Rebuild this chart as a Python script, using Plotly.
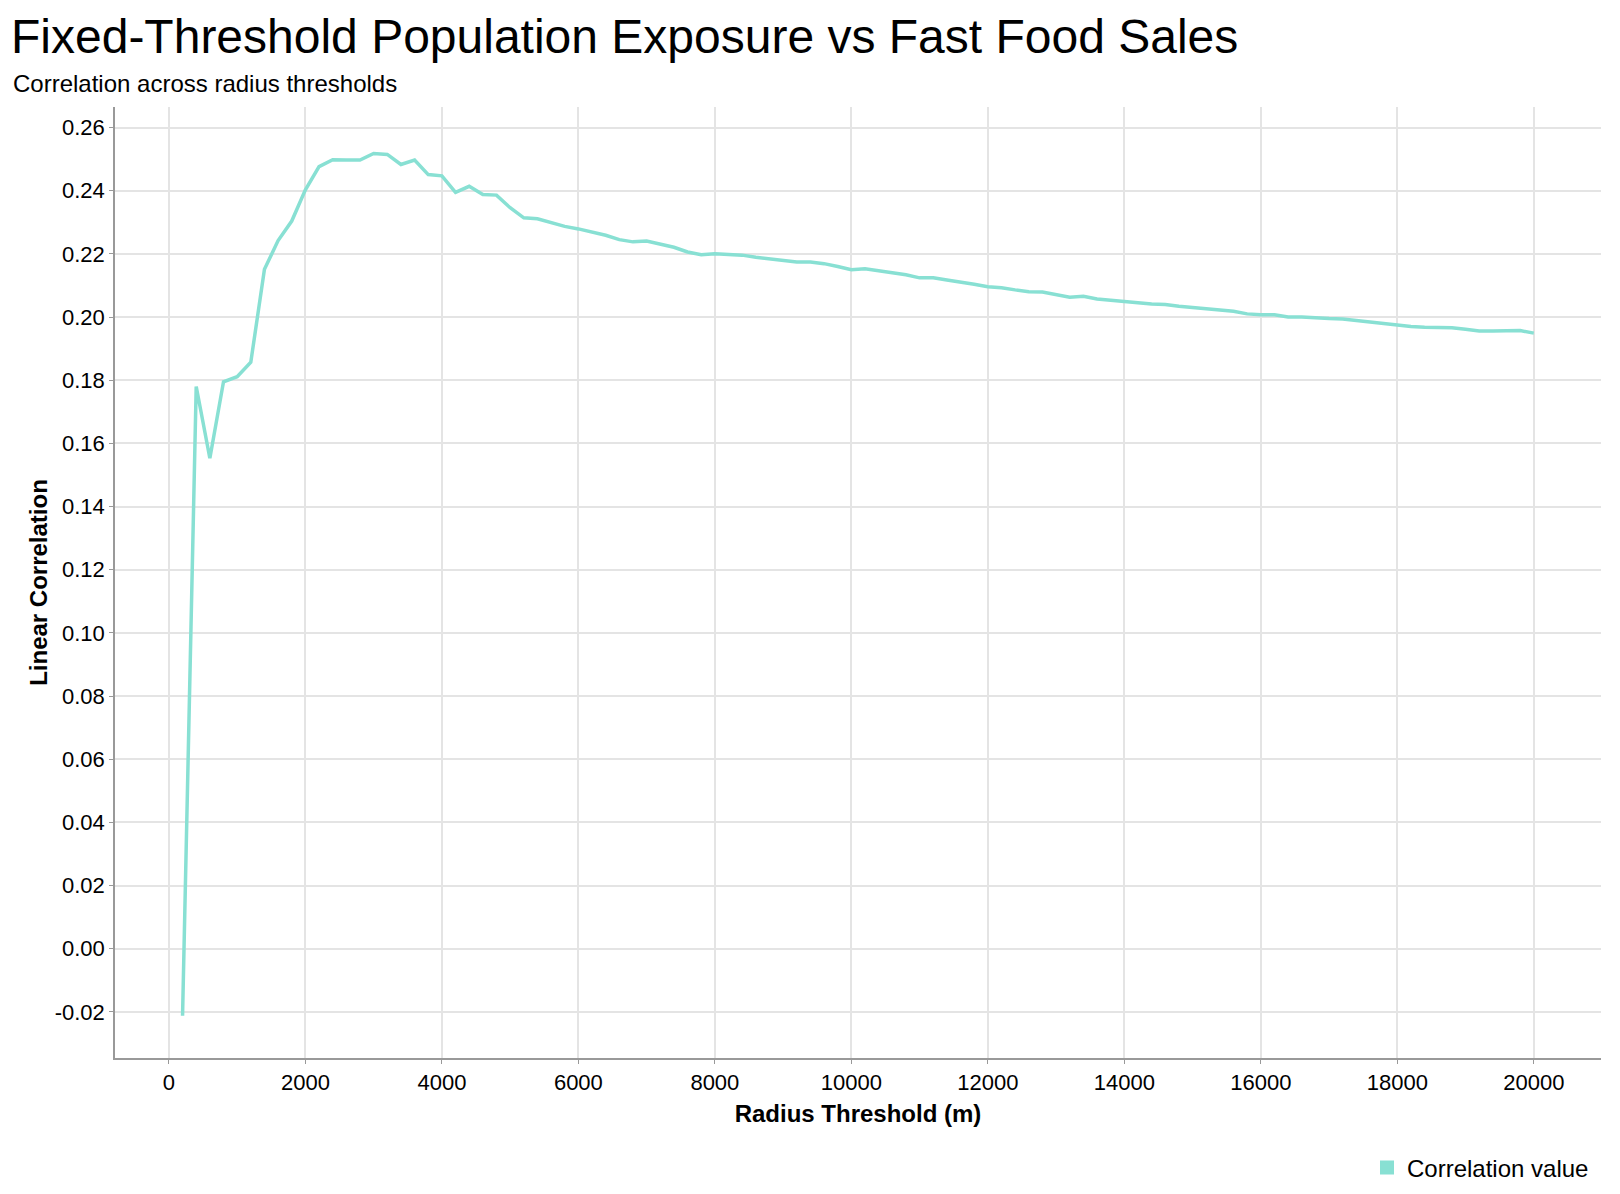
import plotly.graph_objects as go

# radius thresholds (m) and the correlation
radius = [200, 400, 600, 800, 1000, 1200, 1400, 1600, 1800, 2000,
          2200, 2400, 2600, 2800, 3000, 3200, 3400, 3600, 3800, 4000,
          4200, 4400, 4600, 4800, 5000, 5200, 5400, 5600, 5800, 6000,
          6200, 6400, 6600, 6800, 7000, 7200, 7400, 7600, 7800, 8000,
          8200, 8400, 8600, 8800, 9000, 9200, 9400, 9600, 9800, 10000,
          10200, 10400, 10600, 10800, 11000, 11200, 11400, 11600, 11800, 12000,
          12200, 12400, 12600, 12800, 13000, 13200, 13400, 13600, 13800, 14000,
          14200, 14400, 14600, 14800, 15000, 15200, 15400, 15600, 15800, 16000,
          16200, 16400, 16600, 16800, 17000, 17200, 17400, 17600, 17800, 18000,
          18200, 18400, 18600, 18800, 19000, 19200, 19400, 19600, 19800, 20000]
correlation = [-0.0212, 0.1780, 0.1553, 0.1795, 0.1811, 0.1857, 0.2151, 0.2242, 0.2304, 0.2403,
               0.2476, 0.2498, 0.2497, 0.2497, 0.2518, 0.2515, 0.2483, 0.2497, 0.2451, 0.2447,
               0.2395, 0.2414, 0.2388, 0.2386, 0.2346, 0.2314, 0.2311, 0.2300, 0.2287, 0.2279,
               0.2269, 0.2259, 0.2245, 0.2238, 0.2241, 0.2230, 0.2221, 0.2206, 0.2197, 0.2200,
               0.2198, 0.2196, 0.2189, 0.2184, 0.2177, 0.2174, 0.2174, 0.2169, 0.2160, 0.2150,
               0.2153, 0.2147, 0.2140, 0.2134, 0.2124, 0.2124, 0.2117, 0.2111, 0.2104, 0.2096,
               0.2093, 0.2086, 0.2080, 0.2079, 0.2071, 0.2063, 0.2066, 0.2057, 0.2053, 0.2050,
               0.2045, 0.2041, 0.2040, 0.2034, 0.2030, 0.2025, 0.2021, 0.2018, 0.2010, 0.2007,
               0.2007, 0.2000, 0.2000, 0.1997, 0.1995, 0.1994, 0.1989, 0.1985, 0.1980, 0.1973,
               0.1970, 0.1968, 0.1966, 0.1966, 0.1961, 0.1956, 0.1956, 0.1956, 0.1957, 0.1949]

y_ticks = [-0.02, 0.00, 0.02, 0.04, 0.06, 0.08, 0.10, 0.12, 0.14, 0.16, 0.18, 0.20, 0.22, 0.24, 0.26]
y_tick_labels = [f"{v:.2f}" for v in y_ticks]
x_ticks = [0, 2000, 4000, 6000, 8000, 10000, 12000, 14000, 16000, 18000, 20000]

title = "Fixed-Threshold Population Exposure vs Fast Food Sales"
subtitle = "Correlation across radius thresholds"
series_name = "Correlation value"

line_color = "#88e0d3"
font = "Liberation Sans, Arial, Helvetica, sans-serif"

fig = go.Figure()
fig.add_trace(go.Scatter(
    x=radius, y=correlation, mode="lines",
    line=dict(color=line_color, width=3.5),
    showlegend=False, name=series_name,
))
# legend entry drawn as a square swatch like the original
fig.add_trace(go.Scatter(
    x=[None], y=[None], mode="markers", name=series_name,
    marker=dict(symbol="square", size=14, color=line_color),
))

W, H = 1620, 1194
L, R, T, B = 107, 27, 99, 135
ph = H - T - B
pw = W - L - R

fig.update_layout(
    width=W, height=H,
    margin=dict(l=L, r=R, t=T, b=B),
    paper_bgcolor="white", plot_bgcolor="white",
    font=dict(family=font, size=22, color="black"),
    title=dict(text=title, font=dict(size=48, color="black"),
               xref="container", x=3 / W, xanchor="left",
               yref="container", y=1 - 28 / H, yanchor="middle"),
    xaxis=dict(
        range=[-790, 20985],
        tickvals=x_ticks, tickformat="d",
        showgrid=True, gridcolor="#e4e4e4", gridwidth=1.5,
        showline=True, linecolor="#999999", linewidth=1.5,
        ticks="outside", ticklen=4, tickcolor="#999999",
        zeroline=False,
        tickfont=dict(size=22),
        title=dict(text="<b>Radius Threshold (m)</b>", font=dict(size=24), standoff=11),
    ),
    yaxis=dict(
        range=[-0.0346, 0.2665],
        tickvals=y_ticks, ticktext=y_tick_labels,
        showgrid=True, gridcolor="#e4e4e4", gridwidth=1.5,
        showline=True, linecolor="#999999", linewidth=1.5,
        ticks="outside", ticklen=4, tickcolor="#999999",
        zeroline=False,
        tickfont=dict(size=22),
        title=dict(text="<b>Linear Correlation</b>", font=dict(size=24), standoff=0),
    ),
    legend=dict(orientation="h", xanchor="right", x=1 - 7 / pw, yanchor="middle",
                y=-(1170 - (H - B)) / ph, font=dict(size=24),
                bgcolor="rgba(0,0,0,0)"),
    annotations=[dict(
        text=subtitle, showarrow=False,
        xref="paper", yref="paper", x=(3 - L) / pw, xanchor="left",
        y=1 + (T - 75) / ph, yanchor="middle",
        font=dict(size=24, color="black"),
    )],
)

fig.write_html("out.html")
